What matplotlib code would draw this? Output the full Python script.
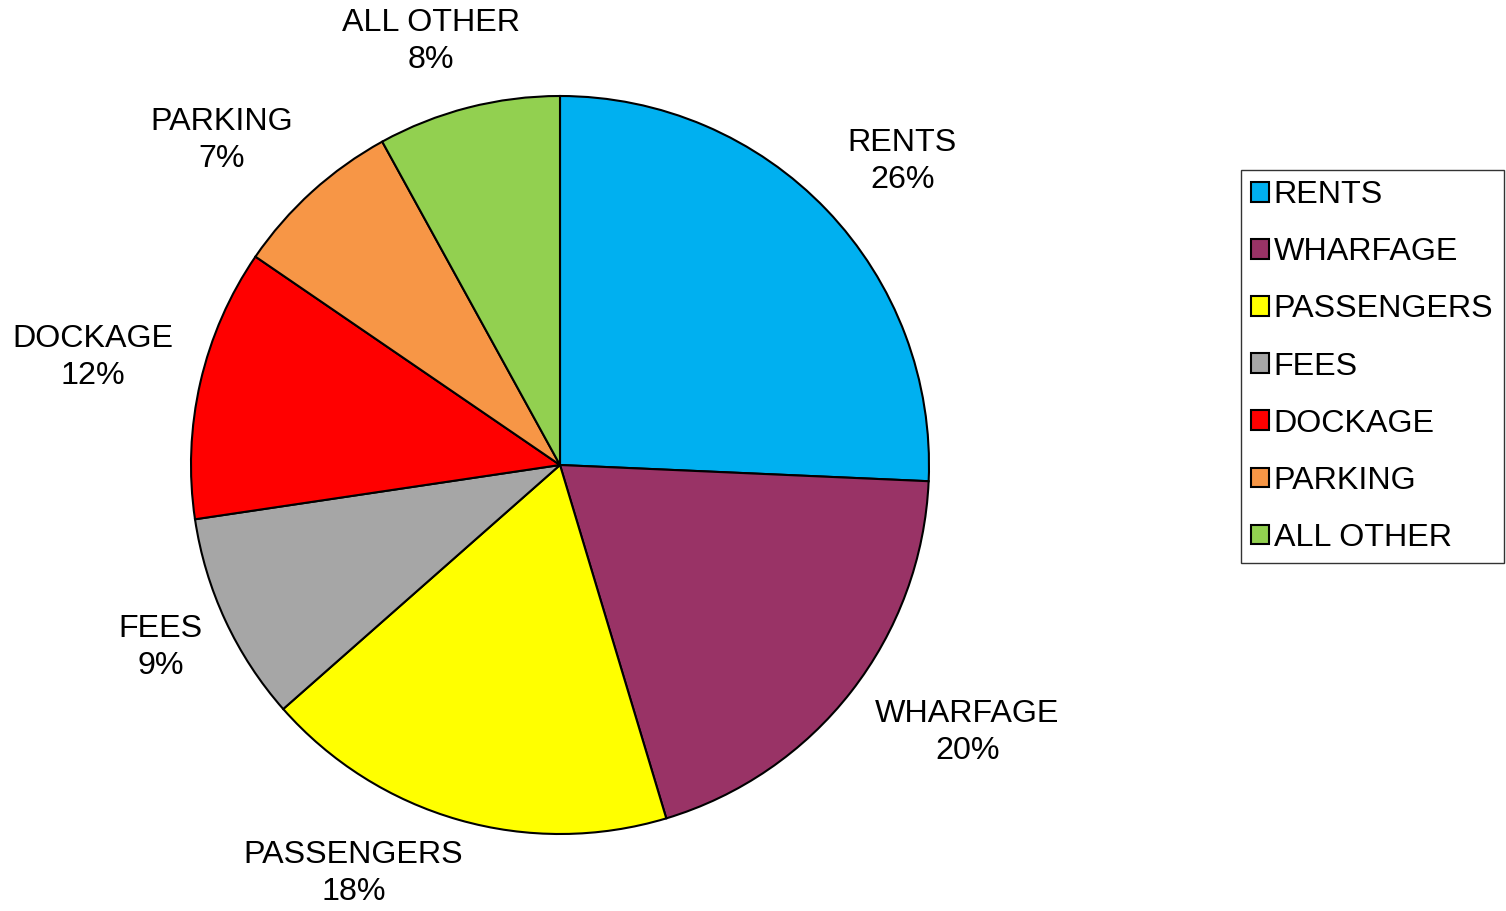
import matplotlib
matplotlib.use("Agg")
import matplotlib.pyplot as plt
from matplotlib.patches import Patch
import numpy as np

plt.rcParams['font.family'] = ['Liberation Sans', 'DejaVu Sans']

categories = ['RENTS', 'WHARFAGE', 'PASSENGERS', 'FEES', 'DOCKAGE', 'PARKING', 'ALL OTHER']
valeurs = [25.7, 19.65, 18.15, 9.15, 11.9, 7.45, 8.0]
couleurs = ['#00B0F0', '#993366', '#FFFF00', '#A6A6A6', '#FF0000', '#F79646', '#92D050']

# placement des étiquettes : décalage d'angle (deg) et distance (en rayons)
decalage_angle = [-2.2, 4.6, -10.9, -0.4, 0.0, 4.0, 2.6]
distance_etiq = [1.24, 1.32, 1.24, 1.19, 1.30, 1.27, 1.20]

W, H = 1506, 911
cx, cy, r = 560, 465, 369  # centre et rayon en pixels
taille = 23.2

fig = plt.figure(figsize=(W / 100, H / 100), dpi=100)
ax = fig.add_axes([0, 0, 1, 1])

wedges, _ = ax.pie(valeurs, colors=couleurs, startangle=90, counterclock=False,
                   radius=1, wedgeprops=dict(edgecolor='black', linewidth=1.5))

ax.set_xlim(-cx / r, (W - cx) / r)
ax.set_ylim(-(H - cy) / r, cy / r)
ax.set_aspect('auto')
ax.axis('off')

# étiquettes autour du camembert
for w, cat, v, da, d in zip(wedges, categories, valeurs, decalage_angle, distance_etiq):
    ang = np.deg2rad((w.theta1 + w.theta2) / 2 + da)
    ax.text(d * np.cos(ang), d * np.sin(ang), f"{cat}\n{v:.0f}%",
            ha='center', va='center', fontsize=taille, linespacing=1.33)

handles = [Patch(facecolor=c, edgecolor='black', linewidth=1.5) for c in couleurs]
leg = fig.legend(handles, categories, loc='upper left',
                 bbox_to_anchor=(1241 / W, 1 - 170 / H), fontsize=taille,
                 frameon=True, fancybox=False, shadow=False,
                 handlelength=0.55, handleheight=0.55, handletextpad=0.15,
                 labelspacing=0.84, borderpad=0.32, borderaxespad=0)
leg.get_frame().set_edgecolor('black')
leg.get_frame().set_linewidth(1)

fig.savefig('out.png', dpi=100)
